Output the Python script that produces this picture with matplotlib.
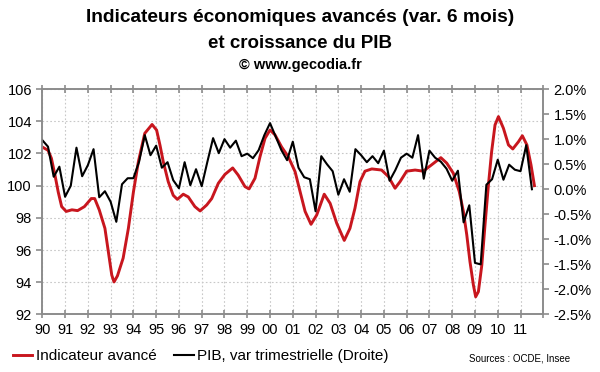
import numpy as np
import matplotlib.pyplot as plt
from matplotlib.ticker import FuncFormatter

plt.rcParams['font.family'] = ['Liberation Sans', 'DejaVu Sans']

# indicateur avance (axe gauche)
red_x = [1990.00, 1990.25, 1990.40, 1990.55, 1990.70, 1990.85, 1991.05, 1991.30, 1991.55, 1991.85,
         1992.15, 1992.30, 1992.50, 1992.75, 1992.90, 1993.05, 1993.15, 1993.30, 1993.55, 1993.78,
         1994.00, 1994.22, 1994.50, 1994.82, 1995.02, 1995.17, 1995.31, 1995.53, 1995.75, 1995.93,
         1996.19, 1996.41, 1996.70, 1996.93, 1997.22, 1997.44, 1997.73, 1998.02, 1998.36, 1998.60,
         1998.90, 1999.08, 1999.34, 1999.56, 1999.78, 2000.00, 2000.22, 2000.51, 2000.80, 2001.10,
         2001.32, 2001.54, 2001.80, 2002.05, 2002.38, 2002.64, 2002.93, 2003.26, 2003.51, 2003.73,
         2003.95, 2004.17, 2004.47, 2004.90, 2005.20, 2005.49, 2005.71, 2006.00, 2006.37, 2006.73,
         2007.10, 2007.50, 2007.76, 2008.05, 2008.31, 2008.49, 2008.64, 2008.78, 2008.93, 2009.03,
         2009.15, 2009.30, 2009.44, 2009.59, 2009.73, 2009.88, 2010.03, 2010.25, 2010.47, 2010.66,
         2010.91, 2011.08, 2011.28, 2011.46, 2011.61]
red_v = [102.4, 102.2, 101.7, 100.7, 99.6, 98.7, 98.4, 98.5, 98.45, 98.7,
         99.2, 99.2, 98.5, 97.35, 95.9, 94.45, 94.02, 94.4, 95.5, 97.35,
         99.6, 101.5, 103.25, 103.8, 103.45, 102.5, 101.5, 100.25, 99.4, 99.15,
         99.47, 99.3, 98.7, 98.43, 98.8, 99.2, 100.15, 100.7, 101.1, 100.66,
         99.94, 99.8, 100.46, 101.8, 102.94, 103.46, 103.15, 102.4, 101.8, 100.87,
         99.63, 98.4, 97.6, 98.18, 99.47, 98.9, 97.66, 96.6, 97.35, 98.6,
         100.25, 100.9, 101.04, 100.97, 100.56, 99.84, 100.25, 100.9, 100.97, 100.9,
         101.3, 101.74, 101.4, 100.77, 99.63, 98.4, 96.94, 95.28, 93.83, 93.1,
         93.42, 95.07, 97.56, 100.04, 102.1, 103.77, 104.29, 103.56, 102.53, 102.28,
         102.73, 103.1, 102.53, 101.29, 100.0]

# PIB, variation trimestrielle en % (axe droit), T1 1990 -> T3 2011
pib = [0.98, 0.85, 0.25, 0.45, -0.15, 0.07, 0.83, 0.26, 0.48, 0.80,
       -0.16, -0.04, -0.25, -0.65, 0.10, 0.22, 0.22, 0.55, 1.08, 0.68,
       0.87, 0.43, 0.54, 0.18, 0.02, 0.54, 0.08, 0.40, 0.06, 0.55,
       1.02, 0.72, 1.00, 0.83, 0.97, 0.66, 0.71, 0.62, 0.78, 1.08,
       1.32, 1.05, 0.78, 0.58, 0.95, 0.43, 0.24, 0.20, -0.44, 0.66,
       0.50, 0.36, -0.11, 0.20, -0.05, 0.80, 0.68, 0.54, 0.66, 0.52,
       0.77, 0.17, 0.38, 0.63, 0.71, 0.63, 1.08, 0.21, 0.77, 0.63,
       0.55, 0.41, 0.17, 0.37, -0.66, -0.32, -1.47, -1.50, 0.09, 0.20,
       0.59, 0.19, 0.49, 0.39, 0.36, 0.88, 0.00]
pib_x = 1990 + np.arange(len(pib)) / 4.0

years = list(range(1990, 2013))
year_labels = ['90', '91', '92', '93', '94', '95', '96', '97', '98', '99', '00',
               '01', '02', '03', '04', '05', '06', '07', '08', '09', '10', '11', '']

fig = plt.figure(figsize=(6, 3.72), dpi=100)
ax = fig.add_axes([0.0705, 0.1546, 0.835, 0.606])
ax2 = ax.twinx()

gray = '#8c8c8c'
for a in (ax, ax2):
    for s in a.spines.values():
        s.set_color(gray)
        s.set_linewidth(1.2)

ax.plot(red_x, red_v, color='#c8161e', linewidth=2.1, label='Indicateur avancé')
ax2.plot(pib_x, pib, color='black', linewidth=1.5, label='PIB, var trimestrielle (Droite)')

ax.set_xlim(1990, 2012)
ax.set_ylim(92, 106)
ax.set_yticks(range(92, 107, 2))
ax.set_xticks(years)
ax.set_xticklabels(year_labels)
ax2.set_ylim(-2.5, 2.0)
ax2.set_yticks(np.arange(-2.5, 2.01, 0.5))
ax2.yaxis.set_major_formatter(FuncFormatter(lambda v, p: '%.1f%%' % v))

ax.grid(True, color='#c8c8c8', linestyle=(0, (1.5, 2)), linewidth=0.8)
ax.tick_params(axis='x', direction='inout', length=6, width=1.2, color=gray,
               top=True, labelsize=10.5, pad=3)
ax.tick_params(axis='y', direction='out', length=4, width=1.2, color=gray, labelsize=10.5)
ax2.tick_params(axis='y', direction='out', length=4, width=1.2, color=gray, labelsize=10.5)

fig.text(0.5, 0.952, 'Indicateurs économiques avancés (var. 6 mois)', ha='center', va='center',
         fontsize=13.8, fontweight='bold')
fig.text(0.5, 0.884, 'et croissance du PIB', ha='center', va='center',
         fontsize=13.5, fontweight='bold')
fig.text(0.5, 0.826, '© www.gecodia.fr', ha='center', va='center',
         fontsize=10.5, fontweight='bold')

h1, l1 = ax.get_legend_handles_labels()
h2, l2 = ax2.get_legend_handles_labels()
fig.legend(h1 + h2, l1 + l2, loc='center left', bbox_to_anchor=(-0.002, 0.042), ncol=2,
           frameon=False, fontsize=11, handlelength=1.3, handletextpad=0.25, columnspacing=1.1)
fig.text(0.95, 0.035, 'Sources : OCDE, Insee', ha='right', va='center', fontsize=7)

plt.savefig('out.png', dpi=100)
